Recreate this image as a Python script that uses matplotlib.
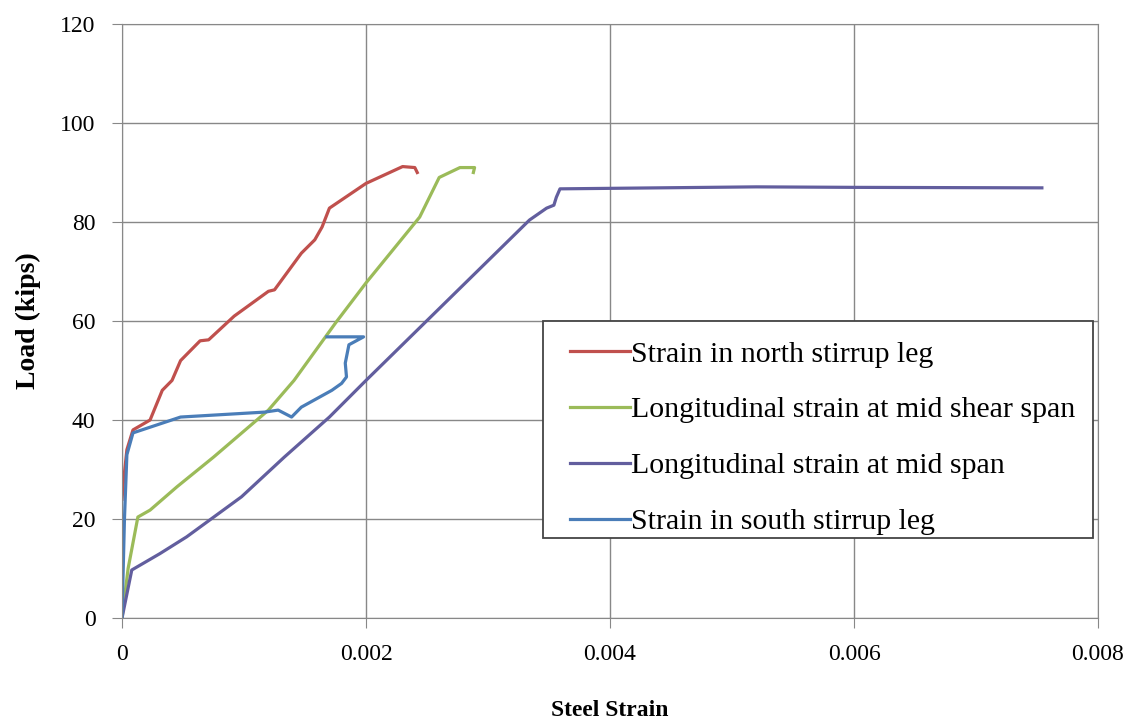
import numpy as np
import matplotlib.pyplot as plt
from matplotlib.patches import Rectangle

# load vs. steel strain readings for the four gauges
north_strain = [0.0, 0.00001, 0.00004, 0.00009, 0.00023, 0.00033, 0.00041, 0.00048,
                0.00064, 0.00071, 0.00092, 0.0012, 0.00125, 0.00147, 0.00158,
                0.00164, 0.0017, 0.002, 0.0023, 0.0024, 0.00242]
north_load = [24, 27, 34, 38, 40, 46, 48, 52, 56, 56.2, 61, 66, 66.3, 73.7, 76.4,
              79, 82.8, 87.8, 91.2, 91, 90]

shear_strain = [0.0, 0.00005, 0.00013, 0.00023, 0.00045, 0.00075, 0.0012, 0.00141,
                0.00175, 0.002, 0.00244, 0.0026, 0.00277, 0.00289, 0.00288]
shear_load = [0, 10, 20.4, 21.8, 26.5, 32.5, 42, 48, 59.6, 67.7, 81, 89, 91, 91, 90]

mid_strain = [0.0, 0.00008, 0.00031, 0.00053, 0.00098, 0.00133, 0.0017, 0.002,
              0.00334, 0.00348, 0.00354, 0.00356, 0.00359, 0.0052, 0.0060, 0.00754]
mid_load = [0, 9.7, 13, 16.4, 24.5, 32.5, 40.6, 48, 80.4, 82.8, 83.4, 85, 86.7,
            87.1, 87.0, 86.9]

south_strain = [0.0, 0.00002, 0.00004, 0.00009, 0.00048, 0.00117, 0.00128, 0.00139,
                0.00147, 0.00172, 0.0018, 0.00184, 0.00183, 0.00186, 0.00198,
                0.00168]
south_load = [0, 20, 33, 37.4, 40.6, 41.6, 42, 40.6, 42.6, 46, 47.4, 48.7, 51.5,
              55.2, 56.8, 56.8]

labels = ["Strain in north stirrup leg",
          "Longitudinal strain at mid shear span",
          "Longitudinal strain at mid span",
          "Strain in south stirrup leg"]
colors = ["#C0504D", "#9BBB59", "#625E9E", "#4A7DB8"]

plt.rcParams['font.family'] = ['Liberation Serif', 'DejaVu Serif']

fig = plt.figure(figsize=(11.35, 7.23), dpi=100)
ax = fig.add_axes([0.1075, 0.1452, 0.8599, 0.8216])

series = [(north_strain, north_load), (shear_strain, shear_load),
          (mid_strain, mid_load), (south_strain, south_load)]
for (xs, ys), lab, col in zip(series, labels, colors):
    ax.plot(xs, ys, color=col, lw=2.3, label=lab, solid_joinstyle='round')

ax.set_xlim(0, 0.008)
ax.set_ylim(0, 120)
ax.set_xticks([0, 0.002, 0.004, 0.006, 0.008])
ax.set_xticklabels(["0", "0.002", "0.004", "0.006", "0.008"])
ax.set_yticks(np.arange(0, 121, 20))
ax.tick_params(labelsize=17, length=7, color='#888888', direction='out')
ax.tick_params(axis='x', pad=12)
ax.tick_params(axis='y', pad=12)
ax.grid(True, color='#888888', lw=1)
ax.set_axisbelow(True)
for side in ax.spines:
    ax.spines[side].set_color('#888888')

ax.set_xlabel("Steel Strain", fontsize=17, fontweight='bold', labelpad=25)
ax.set_ylabel("Load (kips)", fontsize=20, fontweight='bold', labelpad=14)

# legend box drawn separately so its padding can be set per side
ax.add_patch(Rectangle((0.431, 0.135), 0.564, 0.365, transform=ax.transAxes,
                       facecolor='white', edgecolor='#444444', lw=1.3, zorder=5))
leg = ax.legend(loc='upper left', bbox_to_anchor=(0.459, 0.467), fontsize=21.5,
                frameon=False, handlelength=2.0, handletextpad=0.05,
                labelspacing=0.97, borderpad=0, borderaxespad=0)
leg.set_zorder(6)

fig.savefig("out.png", dpi=100)
